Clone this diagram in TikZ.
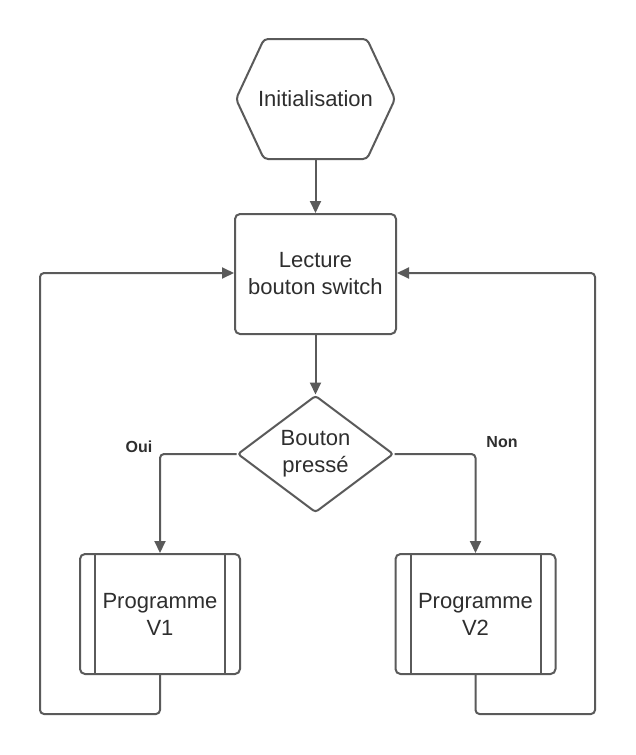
\documentclass[tikz,border=0pt]{standalone}
\usepackage{fontspec}
\setmainfont{Liberation Sans}
\usetikzlibrary{shapes.geometric,arrows.meta,calc}
\definecolor{lineg}{HTML}{5A5A5A}
\definecolor{txt}{HTML}{2E2E2E}
\tikzset{
  base/.style={draw=lineg, line width=2pt, text=txt, font=\fontsize{22}{27}\selectfont, align=center, inner sep=0pt},
  hexbox/.style={base, draw=none, minimum width=157pt, minimum height=118pt},
  procbox/.style={base, rectangle, rounded corners=5pt, minimum width=161pt, minimum height=120pt},
  predef/.style={base, rectangle, rounded corners=5pt, minimum width=160pt, minimum height=120pt},
  decbox/.style={base, diamond, aspect=1.33, minimum width=156pt, minimum height=117pt, rounded corners=3pt},
  conn/.style={draw=lineg, line width=2pt, rounded corners=4pt, -{Triangle[length=12pt,width=11pt]}},
  lab/.style={text=txt, font=\fontsize{16}{19}\selectfont\bfseries, inner sep=0pt}
}
\begin{document}
\begin{tikzpicture}[x=1pt,y=-1pt]
\useasboundingbox (0,0) rectangle (636,755);
\fill[white] (0,0) rectangle (636,755);
% hexagon
\node[hexbox] (init) at (315.5,99) {Initialisation};
\draw[draw=lineg, line width=2pt, rounded corners=4pt]
  (init.west) -- ([xshift=28pt]init.north west) -- ([xshift=-28pt]init.north east)
  -- (init.east) -- ([xshift=-28pt]init.south east) -- ([xshift=28pt]init.south west) -- cycle;
% process
\node[procbox] (read) at (315.5,274) {Lecture\\bouton switch};
% decision
\node[decbox] (dec) at (315.5,454) {Bouton\\pressé};
% predefined processes
\node[predef] (v1) at (160,614) {Programme\\V1};
\node[predef] (v2) at (475.5,614) {Programme\\V2};
\foreach \n in {v1,v2}{
  \draw[draw=lineg, line width=2pt] ([xshift=16pt]\n.north west) -- ([xshift=16pt]\n.south west);
  \draw[draw=lineg, line width=2pt] ([xshift=-16pt]\n.north east) -- ([xshift=-16pt]\n.south east);
}
% labels
\node[lab] (oui) at (139,447) {Oui};
\node[lab] (non) at (502,442) {Non};
% loop coordinates
\coordinate (l1) at (160,714);
\coordinate (l2) at (40,714);
\coordinate (l3) at (40,273);
\coordinate (r1) at (475.5,714);
\coordinate (r2) at (595,714);
\coordinate (r3) at (595,273);
% connectors
\draw[conn] (init.south) -- (read.north);
\draw[conn] (read.south) -- (dec.north);
\draw[conn] (dec.west) -| (v1.north);
\draw[conn] (dec.east) -| (v2.north);
\draw[conn] (v1.south) -- (l1) -- (l2) -- (l3) -- (read.west |- l3);
\draw[conn] (v2.south) -- (r1) -- (r2) -- (r3) -- (read.east |- r3);
\end{tikzpicture}
\end{document}
